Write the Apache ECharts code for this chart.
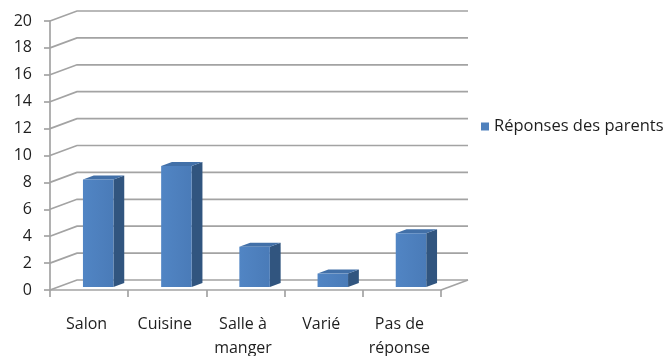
<!DOCTYPE html>
<html>
<head>
<meta charset="utf-8">
<script src="https://cdn.jsdelivr.net/npm/echarts@6/dist/echarts.min.js"></script>
<style>
  html, body { margin: 0; padding: 0; background: #fff; }
  #chart { width: 670px; height: 356px; }
</style>
</head>
<body>
<div id="chart"></div>
<script>
// Data
const categories = ['Salon', 'Cuisine', 'Salle à\nmanger', 'Varié', 'Pas de\nréponse'];
const seriesName = 'Réponses des parents';
const values = [8, 9, 3, 1, 4];
const yTicks = [0, 2, 4, 6, 8, 10, 12, 14, 16, 18, 20];

// 3D projection of the chart box: how far the back wall sits from the front plane
const DEPTH_X = 27;
const DEPTH_Y = 10;
const BAR_FRONT = 0.3;   // bar front face position along depth (0 = front, 1 = back)
const BAR_DEPTH = 0.4;   // bar thickness along depth
const BAR_WIDTH = 0.39;  // fraction of category band

const FONT = '"Open Sans", "Liberation Sans", sans-serif';
const TEXT = '#1e1e1e';
const WALL = '#a3a3a3';

const chart = echarts.init(document.getElementById('chart'), null, { renderer: 'canvas' });

function renderWall(params, api) {
  const cs = params.coordSys;
  const v = api.value(0);
  const y = api.coord([0, v])[1];
  const xl = cs.x, xr = cs.x + cs.width;
  const children = [
    { type: 'polyline', shape: { points: [[xl, y], [xl + DEPTH_X, y - DEPTH_Y], [xr + DEPTH_X, y - DEPTH_Y]] },
      style: { stroke: WALL, lineWidth: 1.7, fill: null } }
  ];
  if (v === 0) {
    children.push({ type: 'line', shape: { x1: xr, y1: y, x2: xr + DEPTH_X, y2: y - DEPTH_Y },
      style: { stroke: WALL, lineWidth: 1.7 } });
  }
  return { type: 'group', children };
}

function renderBar(params, api) {
  const i = api.value(0);
  const v = api.value(1);
  const base = api.coord([i, 0]);
  const top = api.coord([i, v]);
  const band = api.size([1, 0])[0];
  const w = band * BAR_WIDTH;
  const ox = DEPTH_X * BAR_FRONT, oy = -DEPTH_Y * BAR_FRONT;
  const sx = DEPTH_X * BAR_DEPTH, sy = -DEPTH_Y * BAR_DEPTH;
  const xl = base[0] - w / 2 + ox + 1, xr = xl + w;
  const yt = top[1] + oy, yb = base[1] + oy;
  return {
    type: 'group',
    children: [
      { type: 'polygon', shape: { points: [[xr, yt], [xr + sx, yt + sy], [xr + sx, yb + sy], [xr, yb]] },
        style: { fill: '#31557f' } },
      { type: 'polygon', shape: { points: [[xl, yt], [xl + sx, yt + sy], [xr + sx, yt + sy], [xr, yt]] },
        style: { fill: '#4270a8' } },
      { type: 'rect', shape: { x: xl, y: yt, width: w, height: yb - yt },
        style: { fill: new echarts.graphic.LinearGradient(0, 0, 1, 0, [
          { offset: 0, color: '#5185c4' }, { offset: 1, color: '#4a7bb8' }]) } }
    ]
  };
}

chart.setOption({
  animation: false,
  backgroundColor: '#fff',
  textStyle: { fontFamily: FONT },
  legend: {
    data: [seriesName],
    left: 476, top: 113,
    icon: 'rect', itemWidth: 8, itemHeight: 8, itemGap: 6,
    textStyle: { fontFamily: FONT, fontSize: 16.5, color: TEXT },
    selectedMode: false
  },
  grid: { left: 50, top: 21, width: 391, height: 269, containLabel: false, outerBoundsMode: 'none' },
  xAxis: {
    type: 'category',
    data: categories,
    boundaryGap: true,
    axisLine: { lineStyle: { color: WALL, width: 1.7 } },
    axisTick: { show: true, length: 7, alignWithLabel: false, lineStyle: { color: WALL, width: 1.7 } },
    axisLabel: { interval: 0, margin: 22, fontFamily: FONT, fontSize: 16, color: TEXT, lineHeight: 24, padding: [0, 5, 0, 0] },
    splitLine: { show: false }
  },
  yAxis: {
    type: 'value',
    min: 0, max: 20, interval: 2,
    axisLine: { show: true, lineStyle: { color: WALL, width: 1.7 } },
    axisTick: { show: true, length: 6, lineStyle: { color: WALL, width: 1.7 } },
    axisLabel: { margin: 18, fontFamily: FONT, fontSize: 16, color: TEXT },
    splitLine: { show: false }
  },
  series: [
    {
      type: 'custom',
      name: 'wall',
      silent: true,
      z: 1,
      renderItem: renderWall,
      data: yTicks.map(t => [t]),
      encode: { y: 0 },
      tooltip: { show: false }
    },
    {
      type: 'custom',
      name: seriesName,
      z: 3,
      itemStyle: { color: '#4f81bd' },
      renderItem: renderBar,
      data: values.map((v, i) => [i, v]),
      encode: { x: 0, y: 1 }
    }
  ]
});
</script>
</body>
</html>
